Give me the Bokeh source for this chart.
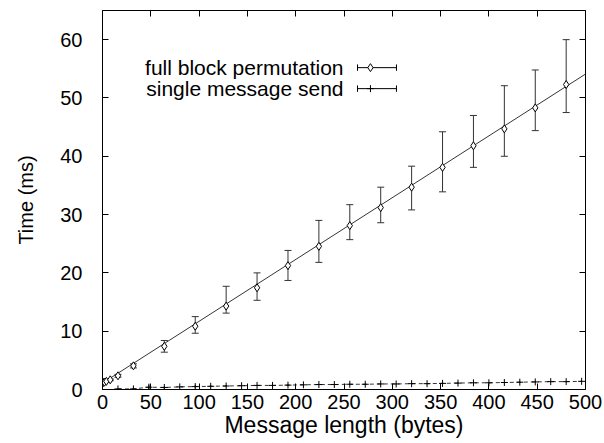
from bokeh.plotting import figure
from bokeh.models import Range1d, LinearAxis, FixedTicker, Label
from bokeh.embed import file_html
from bokeh.resources import INLINE

# ---- data ----
perm_x = [1, 2, 4, 8, 16, 32, 64, 96, 128, 160, 192, 224, 256, 288, 320, 352, 384, 416, 448, 480]
perm_y = [1.2, 1.25, 1.4, 1.66, 2.35, 4.06, 7.4, 10.85, 14.3, 17.45, 21.25, 24.55, 28.1, 31.2, 34.7, 38.1, 41.8, 44.7, 48.3, 52.3]
perm_lo = [1.1, 1.15, 1.3, 1.5, 2.1, 3.7, 6.4, 9.65, 13.1, 15.3, 18.7, 21.8, 25.7, 28.6, 30.8, 33.9, 38.1, 40.0, 44.4, 47.5]
perm_hi = [1.3, 1.35, 1.5, 1.8, 2.6, 4.4, 8.4, 12.5, 17.7, 20.0, 23.85, 29.0, 31.7, 34.7, 38.3, 44.2, 47.0, 52.1, 54.8, 60.0]
perm_fit_x = [0, 500]
perm_fit_y = [1.1, 54.1]

send_x = [16, 32, 48, 64, 80, 96, 112, 128, 144, 160, 176, 192, 208, 224, 240, 256,
          272, 288, 304, 320, 336, 352, 368, 384, 400, 416, 432, 448, 464, 480, 496]
send_y = [0.1, 0.1, 0.4, 0.35, 0.45, 0.5, 0.55, 0.6, 0.65, 0.7, 0.7, 0.75, 0.8, 0.85, 0.85, 0.9,
          0.9, 0.95, 0.95, 1.0, 1.0, 1.05, 1.1, 1.15, 1.15, 1.2, 1.25, 1.3, 1.35, 1.35, 1.4]
send_err = [0.1, 0.1, 0.4, 0.2, 0.1, 0.3, 0.1, 0.1, 0.1, 0.1, 0.1, 0.1, 0.1, 0.1, 0.1, 0.1,
            0.1, 0.1, 0.1, 0.1, 0.1, 0.1, 0.1, 0.1, 0.1, 0.1, 0.1, 0.1, 0.1, 0.1, 0.1]

x_ticks = [0, 50, 100, 150, 200, 250, 300, 350, 400, 450, 500]
y_ticks = [0, 10, 20, 30, 40, 50, 60]
series_names = ["full block permutation", "single message send"]

FONT = "Liberation Sans"

p = figure(width=604, height=443, output_backend="svg", toolbar_location=None,
           x_range=Range1d(0, 500), y_range=Range1d(0, 65),
           min_border_left=102, min_border_right=19, min_border_top=10, min_border_bottom=54)
p.grid.visible = False
p.outline_line_color = "black"
p.outline_line_width = 1
p.background_fill_color = "white"
p.border_fill_color = "white"

for ax in (p.xaxis[0], p.yaxis[0]):
    ax.major_tick_in = 6
    ax.major_tick_out = 0
    ax.minor_tick_line_color = None
    ax.axis_line_color = "black"
    ax.major_label_text_font = FONT
    ax.major_label_text_font_size = "20px"
    ax.major_label_text_color = "black"
    ax.axis_label_text_font = FONT
    ax.axis_label_text_font_style = "normal"
    ax.axis_label_text_color = "black"

p.xaxis[0].axis_label_text_font_size = "23px"
p.yaxis[0].axis_label_text_font_size = "20px"
p.xaxis[0].ticker = FixedTicker(ticks=x_ticks)
p.yaxis[0].ticker = FixedTicker(ticks=y_ticks)
p.xaxis[0].axis_label = "Message length (bytes)"
p.yaxis[0].axis_label = "Time (ms)"
p.xaxis[0].major_label_standoff = 5
p.xaxis[0].axis_label_standoff = 0
p.yaxis[0].major_label_standoff = 20
p.yaxis[0].axis_label_standoff = 20

# mirrored ticks (no labels)
top = LinearAxis(ticker=FixedTicker(ticks=x_ticks), major_label_text_font_size="0px",
                 major_label_text_color=None,
                 major_tick_in=6, major_tick_out=0, minor_tick_line_color=None)
right = LinearAxis(ticker=FixedTicker(ticks=y_ticks), major_label_text_font_size="0px",
                   major_label_text_color=None,
                   major_tick_in=6, major_tick_out=0, minor_tick_line_color=None)
p.add_layout(top, "above")
p.add_layout(right, "right")

# full block permutation
p.line(perm_fit_x, perm_fit_y, line_color="black", line_width=0.8)
p.segment(perm_x, perm_lo, perm_x, perm_hi, line_color="#333333", line_width=1)
p.scatter(perm_x, perm_lo, marker="dash", size=7, line_color="#333333", line_width=1)
p.scatter(perm_x, perm_hi, marker="dash", size=7, line_color="#333333", line_width=1)
p.scatter(perm_x, perm_y, marker="diamond", size=8, fill_color="white", line_color="black", line_width=1)

# single message send
send_lo = [y - e for y, e in zip(send_y, send_err)]
send_hi = [y + e for y, e in zip(send_y, send_err)]
p.line(send_x, send_y, line_color="black", line_width=0.8, line_dash="4 3")
p.segment(send_x, send_lo, send_x, send_hi, line_color="black", line_width=1)
p.scatter(send_x, send_y, marker="cross", size=7, line_color="black", line_width=1)

# legend (gnuplot style: text then sample)
leg_y = [55.2, 51.6]
for name, ly, mk in zip(series_names, leg_y, ["diamond", "cross"]):
    p.add_layout(Label(x=249.5, y=ly, text=name, text_font=FONT, text_font_size="21px",
                       text_align="right", text_baseline="middle", text_color="black"))
    p.segment([264], [ly], [304.3], [ly], line_color="black", line_width=1)
    p.segment([264, 304.3], [ly - 0.55, ly - 0.55], [264, 304.3], [ly + 0.55, ly + 0.55],
              line_color="black", line_width=1)
    if mk == "diamond":
        p.scatter([277.4], [ly], marker="diamond", size=8, fill_color="white", line_color="black")
    else:
        p.scatter([277.4], [ly], marker="cross", size=7, line_color="black")

open("out.html", "w").write(file_html(p, INLINE))
